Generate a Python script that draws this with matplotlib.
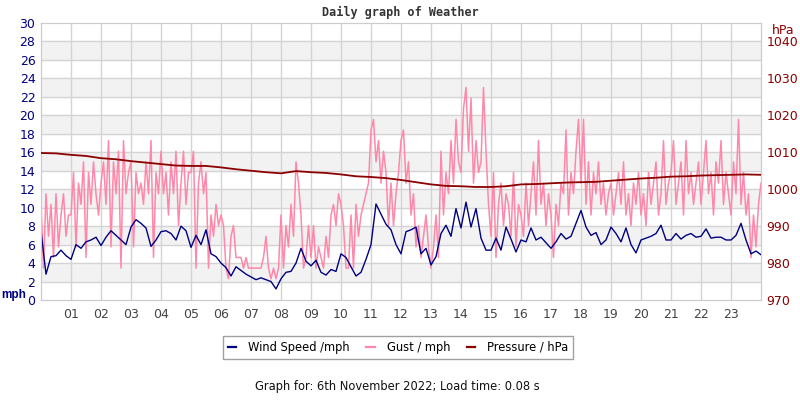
import numpy as np
from matplotlib import pyplot as plt
from matplotlib.lines import Line2D

# Wind speed (mph), one reading every 10 minutes from 00:00 to 24:00.
wind_mph = [
    7.5, 2.8, 4.7, 4.8, 5.4, 4.8,
    4.4, 6.0, 5.6, 6.3, 6.5, 6.8,
    5.9, 6.8, 7.5, 7.0, 6.5, 6.0,
    7.9, 8.7, 8.3, 7.8, 5.8, 6.5,
    7.4, 7.5, 7.2, 6.5, 8.0, 7.5,
    5.7, 7.0, 6.0, 7.6, 5.0, 4.7,
    4.0, 3.5, 2.6, 3.6, 3.2, 2.8,
    2.5, 2.2, 2.4, 2.2, 2.0, 1.2,
    2.3, 3.0, 3.1, 4.0, 5.6, 4.2,
    3.7, 4.3, 3.0, 2.7, 3.3, 3.1,
    5.0, 4.6, 3.6, 2.6, 3.0, 4.4,
    6.0, 10.4, 9.3, 8.2, 7.6, 6.0,
    5.0, 7.4, 7.6, 7.9, 5.0, 5.6,
    3.8, 4.7, 7.2, 8.1, 6.9, 9.9,
    7.8, 10.6, 7.9, 9.9, 6.7, 5.4,
    5.4, 6.7, 5.4, 7.9, 6.6, 5.2,
    6.5, 6.3, 7.8, 6.5, 6.8, 6.2,
    5.6, 6.3, 7.2, 6.6, 6.9, 8.3,
    9.7, 7.9, 7.0, 7.3, 6.0, 6.5,
    7.9, 7.2, 6.3, 7.8, 6.0, 5.1,
    6.5, 6.7, 6.9, 7.2, 8.1, 6.5,
    6.5, 7.2, 6.6, 7.0, 7.2, 6.8,
    6.9, 7.7, 6.7, 6.8, 6.8, 6.5,
    6.5, 7.0, 8.3, 6.5, 5.0, 5.3,
    4.9,
]

# Gusts are logged in whole knots, one every 5 minutes.
gust_knots = [
    9, 3, 10, 6, 9, 4, 10, 5, 8, 10, 6, 8,
    8, 12, 5, 11, 9, 13, 4, 12, 9, 13, 10, 8,
    11, 13, 9, 15, 5, 13, 10, 14, 3, 15, 10, 12,
    13, 5, 12, 10, 11, 9, 13, 10, 15, 4, 12, 10,
    14, 10, 12, 8, 13, 10, 14, 7, 11, 14, 9, 12,
    12, 14, 3, 11, 13, 10, 12, 3, 8, 6, 9, 7,
    8, 7, 3, 2, 6, 7, 4, 4, 4, 3, 4, 3,
    3, 3, 3, 3, 3, 4, 6, 3, 2, 3, 2, 3,
    8, 3, 7, 5, 9, 6, 13, 11, 8, 3, 4, 7,
    4, 7, 3, 5, 4, 3, 6, 4, 8, 9, 7, 10,
    9, 7, 3, 3, 8, 3, 9, 6, 8, 9, 10, 11,
    16, 17, 13, 15, 11, 14, 12, 7, 11, 7, 10, 12,
    15, 16, 11, 13, 8, 10, 5, 7, 4, 6, 8, 5,
    3, 5, 8, 4, 14, 8, 12, 10, 15, 11, 17, 13,
    12, 18, 20, 14, 19, 11, 15, 12, 13, 20, 14, 9,
    6, 12, 4, 9, 11, 7, 10, 9, 6, 12, 5, 9,
    8, 6, 11, 7, 10, 13, 8, 15, 9, 11, 7, 10,
    8, 4, 9, 7, 11, 10, 16, 8, 12, 10, 14, 17,
    11, 17, 9, 13, 8, 12, 10, 13, 9, 11, 8, 10,
    11, 8, 10, 12, 9, 13, 8, 10, 7, 11, 9, 12,
    8, 10, 7, 12, 9, 11, 13, 8, 10, 15, 9, 11,
    12, 15, 9, 11, 13, 8, 15, 10, 12, 9, 11, 13,
    9, 12, 15, 10, 12, 8, 13, 11, 15, 9, 12, 10,
    8, 13, 10, 17, 9, 12, 8, 10, 4, 8, 5, 9,
    11,
]

# Pressure (hPa) every 30 minutes.
pressure_hpa = [
    1009.8, 1009.7, 1009.3, 1009.0, 1008.4, 1008.1, 1007.6, 1007.2,
    1006.8, 1006.4, 1006.3, 1006.3, 1005.9, 1005.4, 1005.0, 1004.6,
    1004.3, 1004.9, 1004.6, 1004.4, 1004.0, 1003.5, 1003.3, 1003.0,
    1002.5, 1001.9, 1001.3, 1000.9, 1000.8, 1000.6, 1000.6, 1000.8,
    1001.3, 1001.4, 1001.6, 1001.8, 1001.9, 1002.0, 1002.3, 1002.6,
    1002.9, 1003.1, 1003.4, 1003.5, 1003.7, 1003.8, 1003.9, 1004.0,
    1003.9,
]

hour_labels = ['%02d' % h for h in range(1, 24)]

wind_t = np.arange(len(wind_mph)) / 6.0
gust_t = np.arange(len(gust_knots)) / 12.0
pres_t = np.arange(len(pressure_hpa)) / 2.0
gust_mph = np.array(gust_knots) * 1.1508

navy = '#000080'
pink = '#ff88aa'
darkred = '#8b0000'

fig = plt.figure(figsize=(8, 4), dpi=100)
ax = fig.add_axes([0.05125, 0.25, 0.9, 0.6925])

# Alternating grey bands and grid.
for lo in range(2, 30, 4):
    ax.axhspan(lo, lo + 2, color='#f2f2f2', zorder=0)
for y in range(2, 30, 2):
    ax.axhline(y, color='#d4d4d4', lw=1, zorder=0.5)
for h in range(1, 24):
    ax.axvline(h, color='#d4d4d4', lw=1, zorder=0.5)

ax.plot(gust_t, gust_mph, color=pink, lw=1.1, zorder=2)
ax.plot(wind_t, wind_mph, color=navy, lw=1, zorder=3)

ax.set_xlim(0, 24)
ax.set_ylim(0, 30)
ax.set_yticks(range(0, 31, 2))
ax.set_xticks(range(1, 24))
ax.set_xticklabels(hour_labels)
ax.tick_params(axis='y', length=0, labelsize=9, labelcolor=navy, pad=4)
ax.tick_params(axis='x', length=0, labelsize=9, labelcolor='#444444', pad=6)
for s in ax.spines.values():
    s.set_color('#cccccc')

ax2 = ax.twinx()
ax2.plot(pres_t, pressure_hpa, color=darkred, lw=1.3, zorder=4)
ax2.set_ylim(970, 1045)
ax2.set_yticks(range(970, 1041, 10))
ax2.tick_params(axis='y', length=0, labelsize=9, labelcolor=darkred, pad=4)
for s in ax2.spines.values():
    s.set_color('#cccccc')

fig.text(0.5, 0.97, 'Daily graph of Weather', ha='center', va='center',
         family='DejaVu Sans Mono', weight='bold', fontsize=8.5, color='#333333')
fig.text(0.001, 0.262, 'mph', ha='left', va='center', weight='bold',
         family='Liberation Sans', fontsize=8.5, color=navy)
fig.text(0.993, 0.925, 'hPa', ha='right', va='center', fontsize=9, color=darkred)

handles = [Line2D([], [], color=navy, lw=1.6),
           Line2D([], [], color=pink, lw=1.6),
           Line2D([], [], color=darkred, lw=1.6)]
leg = fig.legend(handles, ['Wind Speed /mph', 'Gust / mph', 'Pressure / hPa'],
                 loc='center', bbox_to_anchor=(0.4975, 0.1313), ncol=3,
                 fontsize=8.3, frameon=True, fancybox=False, handlelength=0.75,
                 columnspacing=1.45, borderpad=0.45, handletextpad=1.0)
leg.get_frame().set_edgecolor('#888888')
leg.get_frame().set_linewidth(1)

fig.text(0.497, 0.033, 'Graph for: 6th November 2022; Load time: 0.08 s',
         ha='center', va='center', fontsize=8.3, color='#111111')

fig.savefig('out.png', dpi=100)
